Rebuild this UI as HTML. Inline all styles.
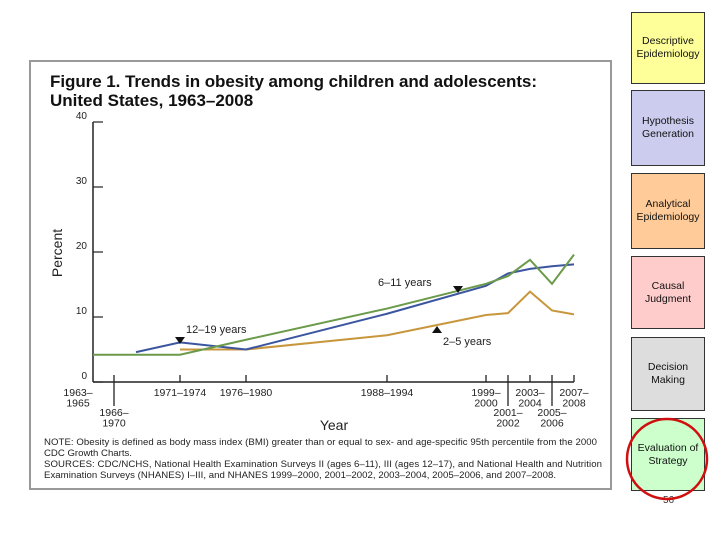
<!DOCTYPE html>
<html><head><meta charset="utf-8"><style>
body{margin:0;background:#fff;width:720px;height:540px;overflow:hidden;font-family:"Liberation Sans",sans-serif;position:relative}
.box{position:absolute;left:631px;width:72px;border:1px solid #333;display:flex;align-items:center;justify-content:center;text-align:center;font-size:10.5px;line-height:13px;color:#111}
</style></head><body>
<svg width="720" height="540" style="position:absolute;left:0;top:0" font-family="Liberation Sans, sans-serif">
<rect x="30" y="61" width="581" height="428" fill="#fff" stroke="#999" stroke-width="2"/>
<text x="50" y="87" font-size="17" font-weight="bold" fill="#111" textLength="487">Figure 1. Trends in obesity among children and adolescents:</text>
<text x="50" y="106" font-size="17" font-weight="bold" fill="#111">United States, 1963–2008</text>
<g id="axes"></g>
<g id="series"></g>
<text transform="translate(62,253) rotate(-90)" text-anchor="middle" font-size="14" fill="#222">Percent</text>
<text x="334" y="430" text-anchor="middle" font-size="14" fill="#222">Year</text>
<text x="186" y="333" font-size="11" fill="#222">12–19 years</text>
<text x="378" y="286" font-size="11" fill="#222">6–11 years</text>
<text x="443" y="345" font-size="11" fill="#222">2–5 years</text>
<path d="M175,337 L185,337 L180,344Z" fill="#111"/>
<path d="M453,286 L463,286 L458,293Z" fill="#111"/>
<path d="M432,333 L442,333 L437,326Z" fill="#111"/>
<g font-size="9.6" fill="#222">
<text x="44" y="445" textLength="553">NOTE: Obesity is defined as body mass index (BMI) greater than or equal to sex- and age-specific 95th percentile from the 2000</text>
<text x="44" y="456">CDC Growth Charts.</text>
<text x="44" y="467" textLength="558">SOURCES: CDC/NCHS, National Health Examination Surveys II (ages 6–11), III (ages 12–17), and National Health and Nutrition</text>
<text x="44" y="478" textLength="512">Examination Surveys (NHANES) I–III, and NHANES 1999–2000, 2001–2002, 2003–2004, 2005–2006, and 2007–2008.</text>
</g>
</svg>
<div class="box" style="top:12px;height:70px;background:#ffff99">Descriptive Epidemiology</div>
<div class="box" style="top:90px;height:74px;background:#ccccee">Hypothesis Generation</div>
<div class="box" style="top:173px;height:74px;background:#ffcc99">Analytical Epidemiology</div>
<div class="box" style="top:256px;height:71px;background:#ffcccc">Causal Judgment</div>
<div class="box" style="top:337px;height:72px;background:#dddddd">Decision Making</div>
<div class="box" style="top:418px;height:71px;background:#ccffcc">Evaluation of Strategy</div>
<div style="position:absolute;left:663px;top:495px;font-size:10px;color:#333">56</div>
<svg width="720" height="540" style="position:absolute;left:0;top:0;pointer-events:none">
<ellipse cx="667" cy="459" rx="40" ry="40" fill="none" stroke="#d01010" stroke-width="2.5"/>
</svg>
<script>
const periodLabels=[["1963–","1965"],["1966–","1970"],["1971–1974"],["1976–1980"],["1988–1994"],["1999–","2000"],["2001–","2002"],["2003–","2004"],["2005–","2006"],["2007–","2008"]];
const periodMid=[1964,1968,1972.5,1978,1991,1999.5,2001.5,2003.5,2005.5,2007.5];
const yTicks=[0,10,20,30,40];
const years611=[1964,1972.5,1978,1991,1999.5,2001.5,2003.5,2005.5,2007.5];
const values611=[4.2,4.2,6.5,11.3,15.1,16.3,18.8,15.1,19.6];
const years1219=[1969.5,1972.5,1978,1991,1999.5,2001.5,2003.5,2005.5,2007.5];
const values1219=[4.6,6.1,5.0,10.5,14.8,16.7,17.4,17.8,18.1];
const years25=[1972.5,1978,1991,1999.5,2001.5,2003.5,2005.5,2007.5];
const values25=[5.0,5.0,7.2,10.3,10.6,13.9,11.0,10.4];
const NS="http://www.w3.org/2000/svg";
const tickX=[93,114,180,246,387,486,508,530,552,574];
function xS(yr){
 for(let i=0;i<periodMid.length-1;i++){
  if(yr<=periodMid[i+1]){const f=(yr-periodMid[i])/(periodMid[i+1]-periodMid[i]);return tickX[i]+f*(tickX[i+1]-tickX[i]);}
 }
 return tickX[tickX.length-1];
}
const yS=v=>382-v*6.5;
function mk(t,a,p){const e=document.createElementNS(NS,t);for(const k in a)e.setAttribute(k,a[k]);p.appendChild(e);return e;}
const ax=document.getElementById('axes');
let l=mk('line',{x1:93,y1:yS(0),x2:574,y2:yS(0),stroke:'#222','stroke-width':1.5},ax);


l=mk('line',{x1:93,y1:yS(0),x2:93,y2:yS(40),stroke:'#222','stroke-width':1.5},ax);


yTicks.forEach(v=>{
 const t=mk('line',{x1:93,y1:yS(v),x2:103,y2:yS(v),stroke:'#222','stroke-width':1.2},ax);
 
 
 const tx=mk('text',{x:87,y:yS(v)-3,'text-anchor':'end','font-size':10,fill:'#222'},ax);
 tx.textContent=v;
 
 
});
periodLabels.forEach((lab,i)=>{
 const x=xS(periodMid[i]);
 const low=(i==1||i==6||i==8);
 if(i>0){
 const t=mk('line',{x1:x,y1:low?yS(0)-7:yS(0)-7,x2:x,y2:low?yS(0)+24:yS(0),stroke:'#222','stroke-width':1.3},ax);
 
 
 }
 const g=mk('text',{'text-anchor':'middle','font-size':10.5,fill:'#222'},ax);
 
 
 const cx=i==0?78:x;
 const y0=low?416:396;
 lab.forEach((s,j)=>{const ts=mk('tspan',{x:cx,y:y0+j*10.5},g);ts.textContent=s;});
});
const sg=document.getElementById('series');
function line(yrs,vals,col,name){
 const p=mk('polyline',{points:yrs.map((y,i)=>xS(y)+','+yS(vals[i])).join(' '),fill:'none',stroke:col,'stroke-width':2},sg);
 
 
}
line(years25,values25,'#c8963c','series-2-5-years');
line(years1219,values1219,'#3b55a0','series-12-19-years');
line(years611,values611,'#6a9a4a','series-6-11-years');
</script>
</body></html>
